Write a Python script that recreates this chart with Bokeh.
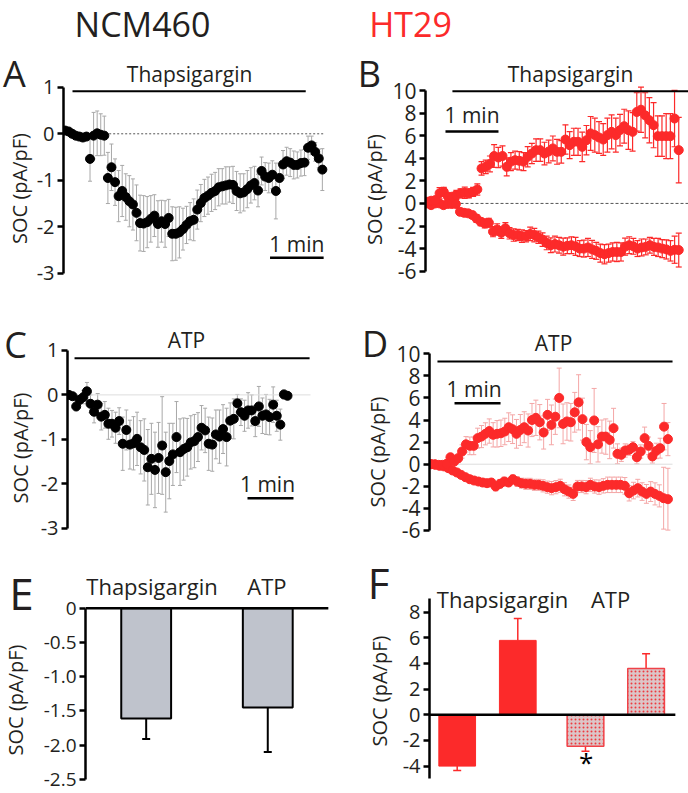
import numpy as np
from bokeh.plotting import figure
from bokeh.layouts import row, column
from bokeh.models import Label, Whisker, TeeHead, ColumnDataSource, FixedTicker, Range1d
from bokeh.embed import file_html
from bokeh.resources import INLINE

FONT = "Open Sans"
INK = "#231f20"
RED = "#fc2a2a"

# ---------------- data ----------------
# Panel A: NCM460, thapsigargin (pA/pF), recording length in min
A_dur = 4.8
A_mean = [0.07, 0.05, 0.00, -0.04, -0.06, -0.08, -0.06, -0.54, -0.04, 0.01,
          -0.02, -0.04, -0.95, -0.72, -1.04, -1.34, -1.23, -1.36, -1.45, -1.52,
          -1.70, -1.92, -1.93, -1.90, -1.83, -1.76, -1.94, -1.88, -1.94, -1.81,
          -2.15, -2.15, -2.12, -2.05, -1.96, -1.88, -1.85, -1.63, -1.49, -1.38,
          -1.33, -1.27, -1.23, -1.15, -1.13, -1.11, -1.09, -1.10, -1.23, -1.28,
          -1.26, -1.19, -1.11, -1.06, -1.22, -0.80, -0.92, -0.95, -0.88, -1.23,
          -0.95, -0.66, -0.59, -0.62, -0.67, -0.67, -0.63, -0.62, -0.30, -0.25,
          -0.39, -0.53, -0.77]
A_sem = [0.03, 0.03, 0.03, 0.03, 0.03, 0.03, 0.03, 0.48, 0.5, 0.48,
         0.45, 0.42, 0.55, 0.5, 0.5, 0.55, 0.55, 0.5, 0.55, 0.55,
         0.6, 0.6, 0.6, 0.55, 0.5, 0.45, 0.5, 0.45, 0.5, 0.4,
         0.58, 0.57, 0.55, 0.45, 0.4, 0.4, 0.45, 0.42, 0.4, 0.4,
         0.4, 0.4, 0.4, 0.4, 0.38, 0.4, 0.38, 0.4, 0.42, 0.42,
         0.4, 0.4, 0.38, 0.36, 0.35, 0.3, 0.3, 0.32, 0.3, 0.6,
         0.3, 0.3, 0.3, 0.3, 0.3, 0.28, 0.28, 0.28, 0.25, 0.2,
         0.2, 0.2, 0.45]

# Panel B: HT29, thapsigargin, two populations
B_dur = 4.75
B_up = [0.15, 0.24, 0.3, 0.9, 1.03, 0.6, 0.6, 0.75, 0.9, 0.94, 0.9, 1.03, 1.24,
        3.1, 3.24, 3.5, 4.2, 4.07, 4.2, 3.24, 3.7, 3.83, 3.78, 3.7, 4.13,
        4.42, 4.72, 4.72, 4.42, 4.6, 4.87, 4.57, 4.57, 5.66, 5.16, 5.46, 5.46, 5.01,
        5.6, 6.2, 6.05, 5.84, 5.66, 6.05, 6.34, 6.05, 6.49, 6.84, 6.49, 6.34,
        8.1, 8.3, 7.8, 7.37, 6.93, 5.96, 5.96, 5.96, 5.96, 7.52, 4.72]
B_up_sem = [0.3, 0.3, 0.3, 0.5, 0.4, 0.3, 0.3, 0.4, 0.4, 0.5, 0.4, 0.4, 0.5,
            0.6, 0.6, 0.7, 1.0, 0.9, 0.9, 0.8, 0.8, 0.8, 0.8, 0.8, 0.9,
            0.9, 1.0, 1.0, 1.0, 1.0, 1.1, 1.1, 1.0, 1.3, 1.2, 1.2, 1.2, 1.3,
            1.3, 1.5, 1.5, 1.4, 1.4, 1.5, 1.5, 1.5, 1.4, 1.5, 1.7, 1.7,
            1.7, 2.0, 2.0, 2.0, 2.0, 1.8, 1.8, 2.0, 2.0, 2.5, 2.9]
B_low = [0.0, -0.15, 0.0, 0.0, -0.15, -0.05, -0.05, -0.05, -0.74, -0.83,
         -0.88, -1.03, -1.33, -1.62, -1.77, -1.71, -2.5, -2.3, -2.6, -2.2,
         -2.65, -2.8, -2.8, -2.9, -2.9, -2.7, -2.8, -3.0, -3.2, -3.5,
         -3.7, -3.6, -3.7, -3.83, -3.75, -3.7, -3.8, -4.0, -4.0, -3.9,
         -4.07, -4.2, -4.4, -4.5, -4.4, -4.3, -4.3, -4.3, -3.83, -3.7,
         -3.8, -4.0, -3.9, -3.85, -3.7, -3.85, -3.9, -4.0, -4.07, -4.2,
         -4.1, -4.13]
B_low_sem = [0.1, 0.1, 0.15, 0.1, 0.15, 0.15, 0.2, 0.2,
             0.3, 0.3, 0.3, 0.3, 0.35, 0.35, 0.4, 0.4,
             0.45, 0.5, 0.5, 0.5, 0.5, 0.55, 0.5, 0.55, 0.5, 0.6, 0.6, 0.55, 0.6, 0.6, 0.65,
             0.7, 0.7, 0.75, 0.7, 0.75, 0.8, 0.7, 0.75, 0.8, 0.8, 0.75, 0.8, 0.85, 0.8, 0.8,
             0.85, 0.8, 0.75, 0.75, 0.7,
             0.7, 0.75, 0.7, 0.7, 0.75, 0.8, 0.8, 0.85, 0.9,
             1.2, 1.5]

# Panel C: NCM460, ATP
C_dur = 4.75
C_mean = [0.0, -0.03, -0.26, -0.11, -0.05, 0.08, -0.2, -0.38, -0.22, -0.49,
          -0.45, -0.65, -0.65, -0.74, -0.59, -1.1, -0.79, -1.12, -1.09, -0.99,
          -1.18, -1.24, -1.63, -1.44, -1.69, -1.42, -1.14, -1.74, -1.49, -1.34,
          -0.95, -1.29, -1.22, -1.18, -1.07, -1.04, -0.95, -0.74, -0.8, -1.1,
          -1.12, -0.89, -0.94, -0.77, -0.95, -0.58, -0.54, -0.19, -0.39, -0.47,
          -0.35, -0.35, -0.59, -0.26, -0.47, -0.44, -0.5, -0.22, -0.47, -0.67,
          0.01, -0.02]
C_sem = [0.05, 0.05, 0.1, 0.1, 0.15, 0.2,
         0.2, 0.25, 0.25, 0.3, 0.3, 0.35, 0.3, 0.35, 0.3,
         0.6, 0.45, 0.55, 0.6, 0.6, 0.6, 0.7, 0.85, 0.8, 0.85, 0.8, 1.1, 0.9, 0.85,
         0.7, 0.8, 0.75, 0.7, 0.65, 0.6, 0.6,
         0.55, 0.5, 0.5, 0.6, 0.6, 0.55, 0.6, 0.55, 0.65, 0.4, 0.45,
         0.2, 0.3, 0.35, 0.4, 0.35, 0.35, 0.45, 0.4, 0.45, 0.4, 0.4, 0.35, 0.35,
         0.1, 0.05]

# Panel D: HT29, ATP, two populations
D_dur = 5.15
D_up = [0.0, 0.0, -0.06, -0.06, 0.03, 0.63, 0.24, 0.54, 1.15, 1.8,
        1.66, 1.66, 2.36, 2.5, 2.75, 3.0, 2.66, 2.75, 2.8, 2.96,
        3.35, 3.17, 2.75, 3.1, 3.35, 3.05, 4.0, 4.2, 3.8, 2.87,
        4.47, 3.56, 4.3, 6.0, 3.65, 3.87, 3.8, 4.7, 5.6, 4.08,
        2.0, 1.54, 3.96, 1.8, 2.5, 2.5, 2.2, 3.26, 0.94, 0.85,
        1.24, 1.3, 1.54, 0.63, 1.15, 2.36, 1.66, 0.7, 1.2, 1.45,
        3.4, 2.27]
D_up_sem = [0.1, 0.1, 0.1, 0.15, 0.2, 0.3, 0.3, 0.4,
            0.6, 0.7, 0.8, 0.8, 0.9, 1.0, 1.0, 1.1,
            1.1, 1.2, 1.2, 1.2, 1.3, 1.3, 1.3, 1.4, 1.4, 1.5, 1.5, 1.6, 1.6, 1.5, 1.4,
            1.8, 1.6, 2.7, 1.8, 1.7, 1.7, 1.8, 2.5, 1.9, 1.6, 1.5, 2.9, 1.6, 1.5, 1.6, 1.7, 1.8,
            0.9, 0.6, 0.6, 0.5, 0.5, 0.6, 0.6, 1.0, 0.8, 0.6, 0.7, 0.9, 2.1, 1.5]
D_low = [0.0, -0.06, -0.15, -0.2, -0.36, -0.57, -0.75, -0.97, -1.18, -1.36,
         -1.48, -1.57, -1.66, -1.72, -1.66, -2.02, -1.78, -1.57, -1.66, -1.36,
         -1.57, -1.72, -1.78, -1.78, -1.87, -1.87, -1.96, -2.08, -2.17, -2.08,
         -1.96, -2.27, -2.48, -2.69, -2.02, -2.02, -2.08, -1.87, -2.02, -2.08,
         -1.96, -1.87, -1.87, -1.87, -1.87, -1.96, -2.63, -2.39, -2.17, -2.48,
         -2.69, -2.48, -2.69, -2.87, -3.08, -3.17]
D_low_sem = [0.05, 0.1, 0.1, 0.15, 0.15, 0.2, 0.2, 0.25, 0.25, 0.3,
             0.3, 0.3, 0.35, 0.35, 0.35, 0.4, 0.4, 0.4, 0.35, 0.4,
             0.45, 0.45, 0.5, 0.5, 0.5, 0.5, 0.55, 0.55, 0.6, 0.6,
             0.6, 0.6, 0.6, 0.6, 0.55, 0.55, 0.6, 0.6, 0.6, 0.65,
             0.65, 0.7, 0.7, 0.7, 0.7, 0.75, 0.7, 0.75, 0.8, 0.8,
             0.85, 0.9, 1.0, 1.0, 2.8, 2.8]

# Panel E: NCM460 summary
E_labels = ["Thapsigargin", "ATP"]
E_mean = [-1.61, -1.45]
E_sem = [0.30, 0.65]

# Panel F: HT29 summary (decrease / increase populations)
F_labels = ["Thapsigargin", "ATP"]
F_mean = [-4.0, 5.8, -2.45, 3.6]
F_sem = [0.35, 1.7, 0.4, 1.15]

# treatment periods (min) and scale-bar length
A_drug = (0.14, 4.49)
B_drug = (0.48, 4.95)
C_drug = (0.12, 5.23)
D_drug = (0.14, 5.25)
SCALE = 1.0

YLAB = "SOC (pA/pF)"


# ---------------- helpers ----------------
def make_fig(width, height, xr, yr, left):
    p = figure(width=width, height=height, x_range=xr, y_range=yr,
               output_backend="svg", toolbar_location=None, x_axis_type=None,
               min_border_left=left, min_border_right=0, min_border_top=0,
               min_border_bottom=0, outline_line_color=None,
               background_fill_color="white", border_fill_color="white")
    p.ygrid.grid_line_color = None
    return p


def side_fig(width, height, yr):
    return figure(width=width, height=height, x_range=(0, width), y_range=yr,
                  output_backend="svg", toolbar_location=None, x_axis_type=None,
                  y_axis_type=None, min_border=0, outline_line_color=None,
                  background_fill_color="white", border_fill_color="white")


def style_y(p, ticks, labels, bounds, size):
    ax = p.yaxis[0]
    ax.ticker = FixedTicker(ticks=ticks)
    ax.major_label_overrides = {t: l for t, l in zip(ticks, labels)}
    ax.bounds = bounds
    ax.axis_line_width = 2.5
    ax.axis_line_color = "black"
    ax.major_tick_line_width = 2.5
    ax.major_tick_line_color = "black"
    ax.major_tick_out = 6
    ax.major_tick_in = 0
    ax.minor_tick_line_color = None
    ax.major_label_text_font = FONT
    ax.major_label_text_font_size = size
    ax.major_label_text_color = INK
    ax.major_label_standoff = 3


def txt(p, x, y, s, size, color=INK, angle=0.0):
    p.add_layout(Label(x=x, y=y, text=s, text_font=FONT, text_font_size=size,
                       text_color=color, text_align="center", angle=angle,
                       text_baseline="middle"))


def side_texts(s, letter, lx, ly, ax_x, ax_y, lsize="36px"):
    txt(s, lx, ly, letter, lsize)
    txt(s, ax_x, ax_y, YLAB, "20px", angle=np.pi / 2)


def series(p, dur, mean, sem, color, err_color, head, err_w=1.0):
    n = min(len(mean), len(sem))
    m = np.array(mean[:n])
    e = np.array(sem[:n])
    t = np.linspace(0, dur, n)
    src = ColumnDataSource(dict(t=t, v=m, lo=m - e, hi=m + e))
    w = Whisker(base="t", lower="lo", upper="hi", source=src, dimension="height",
                line_color=err_color, line_width=err_w,
                upper_head=TeeHead(size=head, line_color=err_color, line_width=err_w),
                lower_head=TeeHead(size=head, line_color=err_color, line_width=err_w))
    p.add_layout(w)
    p.scatter("t", "v", source=src, size=9, fill_color=color, line_color=color)


def bar_line(p, x0, x1, y, width=2):
    p.line(x=[x0, x1], y=[y, y], line_color="black", line_width=width)


# ---------------- header ----------------
head = side_fig(688, 48, (0, 48))
txt(head, 142, 24.5, "NCM460", "34px")
txt(head, 410, 24.5, "HT29", "34px", color=RED)

# ---------------- Panel A ----------------
yA = Range1d(-3.37, 1.834)
sA = side_fig(33, 242, yA)
side_texts(sA, "A", 14, 1.307, 19, -1.176)
pA = make_fig(311, 242, (-0.028, 5.213), yA, 28)
style_y(pA, [-3, -2, -1, 0, 1], ["-3", "-2", "-1", "0", "1"], (-3, 1), "20px")
pA.line(x=[0.824, 4.824], y=[0, 0], line_color="#555555", line_width=1, line_dash="2 2")
series(pA, A_dur, A_mean, A_sem, "black", "#a8a8a8", 4)
bar_line(pA, A_drug[0], A_drug[1], 0.916)
txt(pA, 2.324, 1.29, "Thapsigargin", "21px")
bar_line(pA, 3.824, 3.824 + SCALE, -2.667, 2.5)
txt(pA, 4.324, -2.36, "1 min", "21px")

# ---------------- Panel B ----------------
yB = Range1d(-7.71, 13.72)
sB = side_fig(45, 242, yB)
side_texts(sB, "B", 25, 11.55, 29.5, 1.23)
pB = make_fig(299, 242, (-0.028, 4.934), yB, 36)
style_y(pB, [-6, -4, -2, 0, 2, 4, 6, 8, 10],
        ["-6", "-4", "-2", "0", "2", "4", "6", "8", "10"], (-6, 10), "21px")
pB.line(x=[-0.028, 4.934], y=[0, 0], line_color="#555555", line_width=1, line_dash="3 2")
series(pB, B_dur, B_low, B_low_sem, RED, RED, 6, 1.2)
series(pB, B_dur, B_up, B_up_sem, RED, RED, 6, 1.2)
bar_line(pB, B_drug[0], B_drug[1], 9.94)
txt(pB, 2.708, 11.48, "Thapsigargin", "21px")
bar_line(pB, 0.349, 0.349 + SCALE, 6.37, 2.5)
txt(pB, 0.849, 7.81, "1 min", "21px")

# ---------------- Panel C ----------------
yC = Range1d(-3.392, 2.351)
sC = side_fig(37, 255, yC)
side_texts(sC, "C", 15, 1.135, 20, -1.196)
pC = make_fig(307, 255, (-0.033, 5.989), yC, 30)
style_y(pC, [-3, -2, -1, 0, 1], ["-3", "-2", "-1", "0", "1"], (-3, 1), "20px")
pC.line(x=[-0.033, 5.25], y=[0, 0], line_color="#dddddd", line_width=1)
series(pC, C_dur, C_mean, C_sem, "black", "#a8a8a8", 4)
bar_line(pC, C_drug[0], C_drug[1], 0.827)
txt(pC, 2.554, 1.239, "ATP", "21px")
bar_line(pC, 3.88, 3.88 + SCALE, -2.327, 2.5)
txt(pC, 4.315, -2.011, "1 min", "21px")

# ---------------- Panel D ----------------
yD = Range1d(-7.364, 15.73)
sD = side_fig(49, 255, yD)
side_texts(sD, "D", 30.5, 10.89, 33, 1.105)
pD = make_fig(295, 255, (-0.033, 5.597), yD, 36)
style_y(pD, [-6, -4, -2, 0, 2, 4, 6, 8, 10],
        ["-6", "-4", "-2", "0", "2", "4", "6", "8", "10"], (-6, 10), "21px")
pD.line(x=[-0.033, 5.25], y=[0, 0], line_color="#dddddd", line_width=1)
series(pD, D_dur, D_low, D_low_sem, RED, "#f4a6a6", 5)
series(pD, D_dur, D_up, D_up_sem, RED, "#f4a6a6", 5)
bar_line(pD, D_drug[0], D_drug[1], 9.30)
txt(pD, 2.663, 11.02, "ATP", "21px")
bar_line(pD, 0.511, 0.511 + SCALE, 5.525, 2.5)
txt(pD, 0.935, 6.79, "1 min", "21px")

# ---------------- Panel E ----------------
E_x = [1, 2]
yE = Range1d(-2.705, 0.915)
sE = side_fig(40, 248, yE)
side_texts(sE, "E", 21, 0.222, 15, -1.34, "44px")
pE = make_fig(304, 248, (0.501, 2.631), yE, 45)
style_y(pE, [-2.5, -2.0, -1.5, -1.0, -0.5, 0],
        ["-2.5", "-2.0", "-1.5", "-1.0", "-0.5", "0"], (-2.5, 0), "19px")
pE.vbar(x=E_x, top=0, bottom=E_mean, width=0.41, fill_color="#bfc3cc",
        line_color="black", line_width=2)
e_src = ColumnDataSource(dict(x=E_x, lo=[m - s for m, s in zip(E_mean, E_sem)], hi=E_mean))
pE.add_layout(Whisker(base="x", lower="lo", upper="hi", source=e_src, dimension="height",
                      line_color="black", line_width=2, upper_head=None,
                      lower_head=TeeHead(size=8, line_color="black", line_width=2)))
pE.line(x=[0.501, 2.498], y=[0, 0], line_color="black", line_width=2.5)
for xx, lab in zip([1.048, 1.993], E_labels):
    txt(pE, xx, 0.317, lab, "22px")

# ---------------- Panel F ----------------
F_x = [1, 2, 3.117, 4.117]
yF = Range1d(-6.134, 13.196)
sF = side_fig(49, 248, yF)
side_texts(sF, "F", 34, 10.35, 35, 1.855, "42px")
pF = make_fig(295, 248, (0.543, 4.817), yF, 36)
style_y(pF, [-4, -2, 0, 2, 4, 6, 8], ["-4", "-2", "0", "2", "4", "6", "8"],
        (-5.0, 9.06), "20px")
pF.vbar(x=F_x[:2], top=F_mean[:2], bottom=0, width=0.606, fill_color=RED,
        line_color=RED, line_width=1)
pF.vbar(x=F_x[2:], top=F_mean[2:], bottom=0, width=0.606, fill_color="#dcc6c8",
        hatch_pattern="dot", hatch_color="#ee3a40", hatch_scale=4, hatch_weight=1.2,
        line_color="#f04248", line_width=1.5)
neg = [i for i, m in enumerate(F_mean) if m < 0]
pos = [i for i, m in enumerate(F_mean) if m >= 0]
fn = ColumnDataSource(dict(x=[F_x[i] for i in neg],
                           lo=[F_mean[i] - F_sem[i] for i in neg],
                           hi=[F_mean[i] for i in neg]))
fp = ColumnDataSource(dict(x=[F_x[i] for i in pos],
                           lo=[F_mean[i] for i in pos],
                           hi=[F_mean[i] + F_sem[i] for i in pos]))
pF.add_layout(Whisker(base="x", lower="lo", upper="hi", source=fn, dimension="height",
                      line_color=RED, line_width=1.5, upper_head=None,
                      lower_head=TeeHead(size=8, line_color=RED, line_width=1.5)))
pF.add_layout(Whisker(base="x", lower="lo", upper="hi", source=fp, dimension="height",
                      line_color=RED, line_width=1.5, lower_head=None,
                      upper_head=TeeHead(size=8, line_color=RED, line_width=1.5)))
pF.line(x=[0.543, 4.60], y=[0, 0], line_color="black", line_width=2.5)
for xx, lab in zip([1.748, 3.53], F_labels):
    txt(pF, xx, 9.06, lab, "22px")
txt(pF, 3.129, -3.64, "*", "26px", color="black")

layout = column(head,
                row(sA, pA, sB, pB),
                row(sC, pC, sD, pD),
                row(sE, pE, sF, pF))
open("out.html", "w").write(file_html(layout, INLINE, title="SOC currents"))
